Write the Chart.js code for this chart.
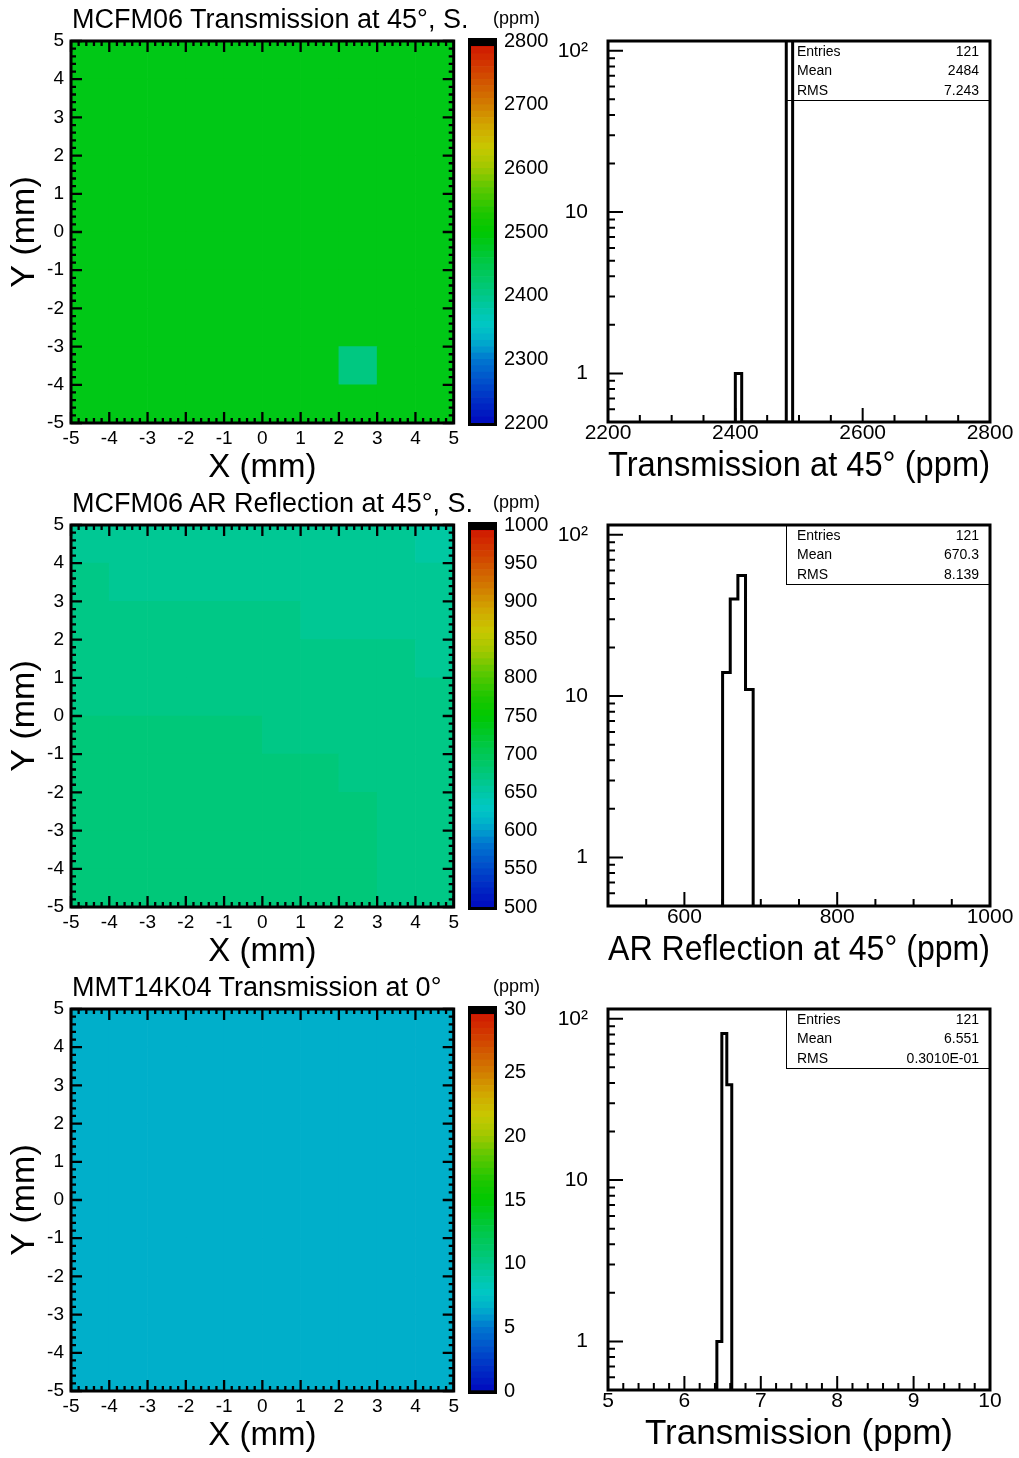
<!DOCTYPE html>
<html>
<head>
<meta charset="utf-8">
<script src="https://cdn.jsdelivr.net/npm/chart.js@4/dist/chart.umd.min.js"></script>
<style>
  html, body { margin:0; padding:0; background:#fff; }
  body { width:1019px; height:1458px; position:relative; overflow:hidden;
         font-family:"Liberation Sans", Arial, Helvetica, sans-serif; color:#000; }
  .ttl { position:absolute; left:72px; font-size:27px; line-height:27px; white-space:nowrap; }
  .unit { position:absolute; right:479px; font-size:18px; line-height:20px; white-space:nowrap; }
  .stats { position:absolute; left:786px; width:204px; height:60px; box-sizing:border-box;
           border:1px solid #000; font-size:14px; line-height:19.3px; padding:0 10px; }
  .stats div { display:flex; justify-content:space-between; }
</style>
</head>
<body>
<script>
// ---------------- data ----------------
const xEdges = [-5, -4, -3, -2, -1, 0, 1, 2, 3, 4, 5];          // mm, left to right
const yEdges = [5, 4, 3, 2, 1, 0, -1, -2, -3, -4, -5];          // mm, top to bottom
const mapTicks = [-5, -4, -3, -2, -1, 0, 1, 2, 3, 4, 5];

// Panel 1: MCFM06 Transmission at 45°, S. (ppm); rows top (y 5..4) to bottom (y -4..-5)
const map1Values = [
  [2485,2485,2485,2485,2485,2485,2485,2485,2485,2485],
  [2485,2485,2485,2485,2485,2485,2485,2485,2485,2485],
  [2485,2485,2485,2485,2485,2485,2485,2485,2485,2485],
  [2485,2485,2485,2485,2485,2485,2485,2485,2485,2485],
  [2485,2485,2485,2485,2485,2485,2485,2485,2485,2485],
  [2485,2485,2485,2485,2485,2485,2485,2485,2485,2485],
  [2485,2485,2485,2485,2485,2485,2485,2485,2485,2485],
  [2485,2485,2485,2485,2485,2485,2485,2485,2485,2485],
  [2485,2485,2485,2485,2485,2485,2485,2405,2485,2485],
  [2485,2485,2485,2485,2485,2485,2485,2485,2485,2485]
];
// Panel 2: MCFM06 AR Reflection at 45°, S. (ppm)
const map2Values = [
  [660,660,660,660,660,660,660,660,660,652],
  [668,660,660,660,660,660,660,660,660,660],
  [668,668,668,668,668,668,660,660,660,660],
  [668,668,668,668,668,668,668,668,668,660],
  [668,668,668,668,668,668,668,668,668,668],
  [676,676,676,676,676,668,668,668,668,668],
  [676,676,676,676,676,676,676,668,668,668],
  [676,676,676,676,676,676,676,676,668,668],
  [676,676,676,676,676,676,676,676,668,668],
  [676,676,676,676,676,676,676,676,668,668]
];
// Panel 3: MMT14K04 Transmission at 0° (ppm)
const map3Values = [
  [6.55,6.55,6.55,6.55,6.55,6.55,6.55,6.55,6.55,6.55],
  [6.55,6.55,6.55,6.55,6.55,6.55,6.55,6.55,6.55,6.55],
  [6.55,6.55,6.55,6.55,6.55,6.55,6.55,6.55,6.55,6.55],
  [6.55,6.55,6.55,6.55,6.55,6.55,6.55,6.55,6.55,6.55],
  [6.55,6.55,6.55,6.55,6.55,6.55,6.55,6.55,6.55,6.55],
  [6.55,6.55,6.55,6.55,6.55,6.55,6.55,6.55,6.55,6.55],
  [6.55,6.55,6.55,6.55,6.55,6.55,6.55,6.55,6.55,6.55],
  [6.55,6.55,6.55,6.55,6.55,6.55,6.55,6.55,6.55,6.55],
  [6.55,6.55,6.55,6.55,6.55,6.55,6.55,6.55,6.55,6.55],
  [6.55,6.55,6.55,6.55,6.55,6.55,6.55,6.55,6.55,6.55]
];

const z1Range = [2200, 2800];
const z2Range = [500, 1000];
const z3Range = [0, 30];
const cb1Ticks = [2200, 2300, 2400, 2500, 2600, 2700, 2800];
const cb2Ticks = [500, 550, 600, 650, 700, 750, 800, 850, 900, 950, 1000];
const cb3Ticks = [0, 5, 10, 15, 20, 25, 30];

// Histograms (bin edges and counts)
const hist1Edges = [2400, 2410, 2480, 2490];
const hist1Counts = [1, 0, 120];
const hist2Edges = [650, 660, 670, 680, 690];
const hist2Counts = [14, 40, 56, 11];
const hist3Edges = [6.425, 6.49, 6.555, 6.62];
const hist3Counts = [1, 81, 39];

const hist1XRange = [2200, 2800];
const hist2XRange = [500, 1000];
const hist3XRange = [5, 10];
const hist1XTicks = [2200, 2400, 2600, 2800];
const hist2XTicks = [600, 800, 1000];
const hist3XTicks = [5, 6, 7, 8, 9, 10];
const histYRange = [0.5, 115];
const histYTicks = [1, 10, 100];

const stats1 = ['121', '2484', '7.243'];
const stats2 = ['121', '670.3', '8.139'];
const stats3 = ['121', '6.551', '0.3010E-01'];
const statNames = ['Entries', 'Mean', 'RMS'];

// ---------------- style ----------------
const PAL = [
  [0.000, [0, 10, 190]], [0.080, [0, 60, 200]], [0.167, [0, 120, 208]], [0.200, [0, 160, 205]],
  [0.230, [0, 185, 200]], [0.260, [0, 200, 195]], [0.300, [0, 200, 165]], [0.350, [0, 200, 122]],
  [0.420, [0, 200, 70]], [0.500, [0, 200, 0]], [0.550, [30, 198, 0]], [0.620, [100, 200, 0]],
  [0.667, [160, 200, 0]], [0.720, [200, 200, 0]], [0.780, [210, 165, 0]], [0.833, [210, 125, 0]],
  [0.900, [210, 80, 0]], [0.960, [210, 40, 0]], [1.000, [205, 15, 0]]
];
function palette(t) {
  t = Math.max(0, Math.min(1, t));
  for (let i = 1; i < PAL.length; i++) {
    if (t <= PAL[i][0]) {
      const [t0, c0] = PAL[i - 1], [t1, c1] = PAL[i];
      const f = (t - t0) / (t1 - t0);
      return 'rgb(' + c0.map((c, k) => Math.round(c + (c1[k] - c) * f)).join(',') + ')';
    }
  }
  return 'rgb(205,15,0)';
}

Chart.defaults.font.family = '"Liberation Sans", Arial, Helvetica, sans-serif';
Chart.defaults.color = '#000';
Chart.defaults.animation = false;

const ROW = [0, 484, 968];

function mkCanvas(left, top, w, h) {
  const c = document.createElement('canvas');
  c.width = w; c.height = h;
  c.style.cssText = `position:absolute;left:${left}px;top:${top}px;width:${w}px;height:${h}px;`;
  document.body.appendChild(c);
  return c;
}
function setTicks(arr) { return s => { s.ticks = arr.map(v => ({ value: v })); }; }

// frame with inward ticks on four sides (heat maps)
const mapFrame = {
  id: 'mapFrame',
  afterDatasetsDraw(chart, args, o) {
    const { ctx, chartArea: a, scales: { x, y } } = chart;
    ctx.save();
    ctx.strokeStyle = '#000';
    ctx.lineWidth = 2.3;
    ctx.beginPath();
    const draw = (sc, horiz) => {
      const n = Math.round((sc.max - sc.min) / o.minor);
      for (let i = 0; i <= n; i++) {
        const v = sc.min + i * o.minor;
        const major = Math.abs(v / o.major - Math.round(v / o.major)) < 1e-6;
        const L = major ? o.majorLen : o.minorLen;
        const p = sc.getPixelForValue(v);
        if (horiz) {
          ctx.moveTo(p, a.bottom); ctx.lineTo(p, a.bottom - L);
          ctx.moveTo(p, a.top); ctx.lineTo(p, a.top + L);
        } else {
          ctx.moveTo(a.left, p); ctx.lineTo(a.left + L, p);
          ctx.moveTo(a.right, p); ctx.lineTo(a.right - L, p);
        }
      }
    };
    draw(x, true); draw(y, false);
    ctx.stroke();
    ctx.lineWidth = 3;
    ctx.strokeRect(a.left, a.top, a.right - a.left, a.bottom - a.top);
    ctx.restore();
  }
};

// colour bar frame
const barFrame = {
  id: 'barFrame',
  afterDraw(chart) {
    const { ctx, chartArea: a } = chart;
    ctx.save();
    ctx.fillStyle = '#000';
    ctx.fillRect(a.left - 3, a.top - 3, a.right - a.left + 6, 8);
    ctx.strokeStyle = '#000';
    ctx.lineWidth = 3;
    ctx.strokeRect(a.left - 1.5, a.top - 1.5, a.right - a.left + 3, a.bottom - a.top + 3);
    ctx.restore();
  }
};

// histogram frame with ticks on left (log) and bottom
const histFrame = {
  id: 'histFrame',
  afterDatasetsDraw(chart, args, o) {
    const { ctx, chartArea: a, scales: { x, y } } = chart;
    ctx.save();
    ctx.strokeStyle = '#000';
    ctx.lineWidth = 2;
    ctx.beginPath();
    const n = Math.round((x.max - x.min) / o.xMinor);
    for (let i = 0; i <= n; i++) {
      const v = x.min + i * o.xMinor;
      const major = Math.abs(v / o.xMajor - Math.round(v / o.xMajor)) < 1e-6;
      const p = x.getPixelForValue(v);
      ctx.moveTo(p, a.bottom); ctx.lineTo(p, a.bottom - (major ? 14 : 7));
    }
    for (let d = -1; d <= 2; d++) {
      for (let m = 1; m <= 9; m++) {
        const v = m * Math.pow(10, d);
        if (v < y.min || v > y.max) continue;
        const p = y.getPixelForValue(v);
        ctx.moveTo(a.left, p); ctx.lineTo(a.left + (m === 1 ? 15 : 7), p);
      }
    }
    ctx.stroke();
    ctx.lineWidth = 3;
    ctx.strokeRect(a.left, a.top, a.right - a.left, a.bottom - a.top);
    ctx.restore();
  }
};

function makeMap(top, values, zRange) {
  const data = [], colors = [];
  values.forEach((row, ri) => row.forEach((v, ci) => {
    data.push({ x: (xEdges[ci] + xEdges[ci + 1]) / 2, y: [yEdges[ri + 1], yEdges[ri]] });
    colors.push(palette((v - zRange[0]) / (zRange[1] - zRange[0])));
  }));
  new Chart(mkCanvas(0, top, 465, 484), {
    type: 'bar',
    data: { datasets: [{ data, backgroundColor: colors, borderWidth: 0, grouped: false,
                         barPercentage: 1, categoryPercentage: 1 }] },
    options: {
      responsive: false, devicePixelRatio: 1, events: [],
      layout: { padding: { left: 0, right: 10, top: 41, bottom: 0 } },
      plugins: { legend: { display: false }, tooltip: { enabled: false },
                 mapFrame: { major: 1, minor: 0.2, majorLen: 11, minorLen: 5 } },
      scales: {
        x: { type: 'linear', min: -5, max: 5, offset: false,
             afterBuildTicks: setTicks(mapTicks), afterFit: s => { s.height = 61; },
             grid: { display: false, drawTicks: false, offset: false }, border: { display: false },
             ticks: { font: { size: 19, lineHeight: 1 }, padding: 6, maxRotation: 0, autoSkip: false,
                      callback: v => String(v) },
             title: { display: true, text: 'X (mm)', font: { size: 33, lineHeight: 1 }, padding: { top: 0, bottom: 0 } } },
        y: { type: 'linear', min: -5, max: 5,
             afterBuildTicks: setTicks(mapTicks), afterFit: s => { s.width = 71; },
             grid: { display: false, drawTicks: false }, border: { display: false },
             ticks: { font: { size: 19, lineHeight: 1 }, padding: 7, autoSkip: false,
                      callback: v => String(v) },
             title: { display: true, text: 'Y (mm)', font: { size: 34, lineHeight: 1 }, padding: { top: 8, bottom: 0 } } }
      }
    },
    plugins: [mapFrame]
  });
}

function makeBar(top, zRange, tickVals) {
  const n = 60, datasets = [];
  for (let i = 0; i < n; i++) {
    const lo = zRange[0] + (zRange[1] - zRange[0]) * i / n;
    const hi = zRange[0] + (zRange[1] - zRange[0]) * (i + 1) / n;
    datasets.push({ data: [[lo, hi]], backgroundColor: palette((i + 0.5) / n), borderWidth: 0,
                    grouped: false, barPercentage: 1, categoryPercentage: 1 });
  }
  new Chart(mkCanvas(462, top, 98, 484), {
    type: 'bar',
    data: { labels: [''], datasets },
    options: {
      responsive: false, devicePixelRatio: 1, events: [],
      layout: { padding: { left: 9, right: 0, top: 41, bottom: 61 } },
      plugins: { legend: { display: false }, tooltip: { enabled: false } },
      scales: {
        x: { display: false },
        y: { position: 'right', min: zRange[0], max: zRange[1], z: 1,
             afterBuildTicks: setTicks(tickVals), afterFit: s => { s.width = 66; },
             grid: { color: '#000', lineWidth: 2, drawTicks: false }, border: { display: false },
             ticks: { font: { size: 20, lineHeight: 1 }, padding: 10, autoSkip: false,
                      callback: v => String(v) } }
      }
    },
    plugins: [barFrame]
  });
}

function makeHist(top, edges, counts, xRange, xTicks, xMajor, xMinor, title) {
  const yMin = histYRange[0];
  const pts = [{ x: edges[0], y: yMin }];
  counts.forEach((c, i) => pts.push({ x: edges[i], y: c > 0 ? c : yMin }));
  pts.push({ x: edges[edges.length - 1], y: yMin });
  new Chart(mkCanvas(540, top, 479, 484), {
    type: 'line',
    data: { datasets: [{ data: pts, borderColor: '#000', borderWidth: 3, pointRadius: 0,
                         stepped: 'before', fill: false, borderJoinStyle: 'miter' }] },
    options: {
      responsive: false, devicePixelRatio: 1, events: [],
      layout: { padding: { left: 0, right: 29, top: 41, bottom: 0 } },
      plugins: { legend: { display: false }, tooltip: { enabled: false },
                 histFrame: { xMajor, xMinor } },
      scales: {
        x: { type: 'linear', min: xRange[0], max: xRange[1],
             afterBuildTicks: setTicks(xTicks), afterFit: s => { s.height = 62; },
             grid: { display: false, drawTicks: false }, border: { display: false },
             ticks: { font: { size: 21, lineHeight: 1 }, padding: 1, maxRotation: 0, autoSkip: false,
                      callback: v => String(v) },
             title: { display: true, text: title, font: { size: 35, lineHeight: 1 }, padding: { top: 0, bottom: 0 } } },
        y: { type: 'logarithmic', min: histYRange[0], max: histYRange[1],
             afterBuildTicks: setTicks(histYTicks), afterFit: s => { s.width = 68; },
             grid: { display: false, drawTicks: false }, border: { display: false },
             ticks: { font: { size: 21, lineHeight: 1 }, padding: 20, autoSkip: false,
                      callback: v => (Math.abs(v - 100) < 1e-6 ? '10\u00B2' : String(v)) } }
      }
    },
    plugins: [histFrame]
  });
}

function addText(cls, top, text) {
  const d = document.createElement('div');
  d.className = cls; d.style.top = top + 'px'; d.textContent = text;
  document.body.appendChild(d);
}
function addStats(top, vals) {
  const box = document.createElement('div');
  box.className = 'stats'; box.style.top = top + 'px';
  statNames.forEach((n, i) => {
    const r = document.createElement('div');
    const a = document.createElement('span'); a.textContent = n;
    const b = document.createElement('span'); b.textContent = vals[i];
    r.appendChild(a); r.appendChild(b); box.appendChild(r);
  });
  document.body.appendChild(box);
}

makeMap(ROW[0], map1Values, z1Range);
makeBar(ROW[0], z1Range, cb1Ticks);
makeHist(ROW[0], hist1Edges, hist1Counts, hist1XRange, hist1XTicks, 200, 50, 'Transmission at 45\u00B0 (ppm)');

makeMap(ROW[1], map2Values, z2Range);
makeBar(ROW[1], z2Range, cb2Ticks);
makeHist(ROW[1], hist2Edges, hist2Counts, hist2XRange, hist2XTicks, 200, 50, 'AR Reflection at 45\u00B0 (ppm)');

makeMap(ROW[2], map3Values, z3Range);
makeBar(ROW[2], z3Range, cb3Ticks);
makeHist(ROW[2], hist3Edges, hist3Counts, hist3XRange, hist3XTicks, 1, 0.2, 'Transmission (ppm)');

addText('ttl', ROW[0] + 6, 'MCFM06 Transmission at 45\u00B0, S.');
addText('ttl', ROW[1] + 6, 'MCFM06 AR Reflection at 45\u00B0, S.');
addText('ttl', ROW[2] + 6, 'MMT14K04 Transmission at 0\u00B0');
addText('unit', ROW[0] + 8, '(ppm)');
addText('unit', ROW[1] + 8, '(ppm)');
addText('unit', ROW[2] + 8, '(ppm)');
addStats(ROW[0] + 41, stats1);
addStats(ROW[1] + 41, stats2);
addStats(ROW[2] + 41, stats3);
</script>
</body>
</html>
